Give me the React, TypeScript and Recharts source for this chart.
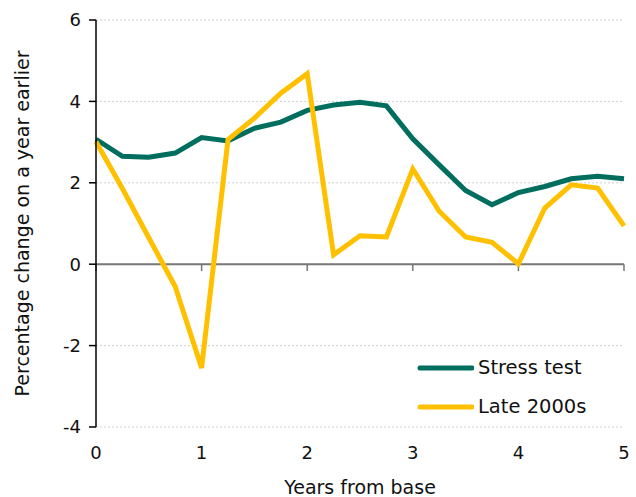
import React from 'react';
import { LineChart, Line, XAxis, YAxis, CartesianGrid, ReferenceLine } from 'recharts';

const years = [0, 0.25, 0.5, 0.75, 1, 1.25, 1.5, 1.75, 2, 2.25, 2.5, 2.75, 3, 3.25, 3.5, 3.75, 4, 4.25, 4.5, 4.75, 5];
const stressTest = [3.07, 2.65, 2.63, 2.73, 3.11, 3.03, 3.34, 3.49, 3.78, 3.91, 3.98, 3.89, 3.08, 2.44, 1.81, 1.46, 1.76, 1.91, 2.1, 2.16, 2.1];
const late2000s = [3.01, 1.86, 0.65, -0.55, -2.55, 3.06, 3.59, 4.2, 4.68, 0.23, 0.7, 0.67, 2.34, 1.3, 0.67, 0.54, 0.01, 1.38, 1.95, 1.87, 0.94];
const xTicks = [0, 1, 2, 3, 4, 5];
const yTicks = [-4, -2, 0, 2, 4, 6];
const seriesNames = ['Stress test', 'Late 2000s'];
const colors = ['#006E5E', '#FFC000'];

const data = years.map((y, i) => ({ year: y, stress: stressTest[i], late: late2000s[i] }));

const FONT = '"DejaVu Sans", sans-serif';

const LegendBox = () => (
  <div style={{ position: 'absolute', left: 416, top: 348, fontFamily: FONT }}>
    {seriesNames.map((n, i) => (
      <div key={n} style={{ display: 'flex', alignItems: 'center', height: 39 }}>
        <svg width={58} height={10} style={{ display: 'block' }}>
          <line x1={4} y1={5} x2={56} y2={5} stroke={colors[i]} strokeWidth={5} strokeLinecap="round" />
        </svg>
        <span style={{ fontSize: 19.5, color: '#111', marginLeft: 4, whiteSpace: 'nowrap' }}>{n}</span>
      </div>
    ))}
  </div>
);

export default function App() {
  return (
    <div style={{ position: 'absolute', left: 0, top: 0, width: 636, height: 497 }}>
      <LineChart width={636} height={497} data={data} margin={{ top: 20, right: 12, left: 0, bottom: 0 }}>
        <CartesianGrid vertical={false} stroke="#d0d0d0" strokeDasharray="2 2" />
        <XAxis
          dataKey="year"
          type="number"
          domain={[0, 5]}
          ticks={xTicks}
          axisLine={false}
          tickLine={false}
          tickSize={0}
          tickMargin={19}
          height={70}
          tick={{ fill: '#111', fontSize: 18, fontFamily: FONT }}
          label={{ value: 'Years from base', position: 'insideBottom', offset: 3, fill: '#111', fontSize: 19, fontFamily: FONT }}
        />
        <YAxis
          type="number"
          domain={[-4, 6]}
          ticks={yTicks}
          width={96}
          axisLine={{ stroke: '#000', strokeWidth: 1.5 }}
          tickLine={{ stroke: '#000', strokeWidth: 1.5 }}
          tickSize={7}
          tickMargin={8}
          tick={{ fill: '#111', fontSize: 18, fontFamily: FONT }}
          label={({ viewBox }: any) => (
            <text
              x={22}
              y={viewBox.y + viewBox.height / 2}
              transform={`rotate(-90, 22, ${viewBox.y + viewBox.height / 2})`}
              textAnchor="middle"
              dominantBaseline="central"
              fill="#111"
              fontSize={19}
              fontFamily={FONT}
            >
              Percentage change on a year earlier
            </text>
          )}
        />
        <ReferenceLine y={0} stroke="#777" strokeWidth={2} />
        {xTicks.map((t) => (
          <ReferenceLine key={t} segment={[{ x: t, y: 0 }, { x: t, y: -0.17 }]} stroke="#777" strokeWidth={1.5} />
        ))}
        <Line type="linear" dataKey="stress" name={seriesNames[0]} stroke={colors[0]} strokeWidth={5} dot={false} isAnimationActive={false} />
        <Line type="linear" dataKey="late" name={seriesNames[1]} stroke={colors[1]} strokeWidth={5} dot={false} isAnimationActive={false} />
      </LineChart>
      <LegendBox />
    </div>
  );
}
